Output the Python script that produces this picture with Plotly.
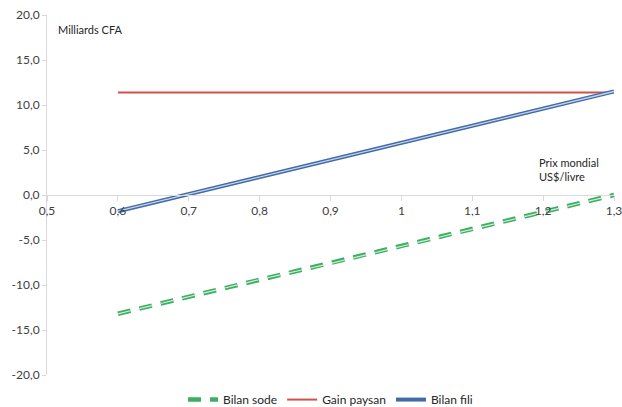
import plotly.graph_objects as go

prix = [0.6, 0.7, 0.8, 0.9, 1.0, 1.1, 1.2, 1.3]
bilan_sode = [-13.2, -11.3, -9.4, -7.6, -5.7, -3.8, -1.9, 0.0]
gain_paysan = [11.4, 11.4, 11.4, 11.4, 11.4, 11.4, 11.4, 11.4]
bilan_fili = [-1.8, 0.1, 2.0, 3.9, 5.8, 7.7, 9.6, 11.5]

y_ticks = [20, 15, 10, 5, 0, -5, -10, -15, -20]
y_tick_labels = ["20,0", "15,0", "10,0", "5,0", "0,0", "-5,0", "-10,0", "-15,0", "-20,0"]
x_ticks = [0.5, 0.6, 0.7, 0.8, 0.9, 1.0, 1.1, 1.2, 1.3]
x_tick_labels = ["0,5", "0,6", "0,7", "0,8", "0,9", "1", "1,1", "1,2", "1,3"]

fig = go.Figure()
fig.add_trace(go.Scatter(x=prix, y=bilan_sode, mode="lines", name="Bilan sode",
                         line=dict(color="#3fae63", width=4.5, dash="13px,9px")))
fig.add_trace(go.Scatter(x=prix, y=bilan_sode, mode="lines", showlegend=False, hoverinfo="skip",
                         line=dict(color="#c9efd4", width=1.2, dash="13px,9px")))
fig.add_trace(go.Scatter(x=prix, y=gain_paysan, mode="lines", name="Gain paysan",
                         line=dict(color="#d0504d", width=2)))
fig.add_trace(go.Scatter(x=prix, y=bilan_fili, mode="lines", name="Bilan fili",
                         line=dict(color="#416aa6", width=4)))
fig.add_trace(go.Scatter(x=prix, y=bilan_fili, mode="lines", showlegend=False, hoverinfo="skip",
                         line=dict(color="#c4d4ec", width=1.3)))

font = dict(family="Lato, Open Sans, sans-serif", size=12, color="#404040")

fig.update_layout(
    width=622, height=407,
    margin=dict(l=47, r=8, t=15, b=32, autoexpand=False),
    paper_bgcolor="white", plot_bgcolor="white",
    font=font,
    showlegend=True,
    legend=dict(orientation="h", x=0.5, xanchor="center", y=-0.028, yanchor="top",
                font=dict(family="Lato, Open Sans, sans-serif", size=12, color="#262626"),
                itemwidth=30, traceorder="normal"),
    xaxis=dict(range=[0.5, 1.3], tickvals=x_ticks, ticktext=x_tick_labels,
               showgrid=False, zeroline=False, showline=True, linecolor="#d9d9d9", linewidth=1,
               ticks="outside", ticklen=5, tickcolor="#d9d9d9", automargin=False,
               ticklabeloverflow="allow",
               anchor="free", position=0.5, tickfont=font),
    yaxis=dict(range=[-20, 20], tickvals=y_ticks, ticktext=y_tick_labels,
               showgrid=False, zeroline=False, showline=True, linecolor="#d9d9d9", linewidth=1,
               ticks="outside", ticklen=4, tickcolor="#d9d9d9", tickfont=font, automargin=False),
    annotations=[
        dict(text="Milliards CFA", x=0, y=1, xref="paper", yref="paper", xanchor="left", yanchor="top",
             xshift=9, yshift=-6, showarrow=False, font=dict(family="Lato, Open Sans, sans-serif", size=11, color="#262626")),
        dict(text="Prix mondial<br>US$/livre", x=1.2, y=0, xref="x", yref="y", xanchor="left", yanchor="bottom",
             xshift=-6, yshift=10, showarrow=False, align="left",
             font=dict(family="Lato, Open Sans, sans-serif", size=11, color="#262626")),
    ],
)

fig.write_html("out.html", config={"displayModeBar": False},
               post_script="document.body.style.margin='0px';document.body.style.overflow='hidden';")
